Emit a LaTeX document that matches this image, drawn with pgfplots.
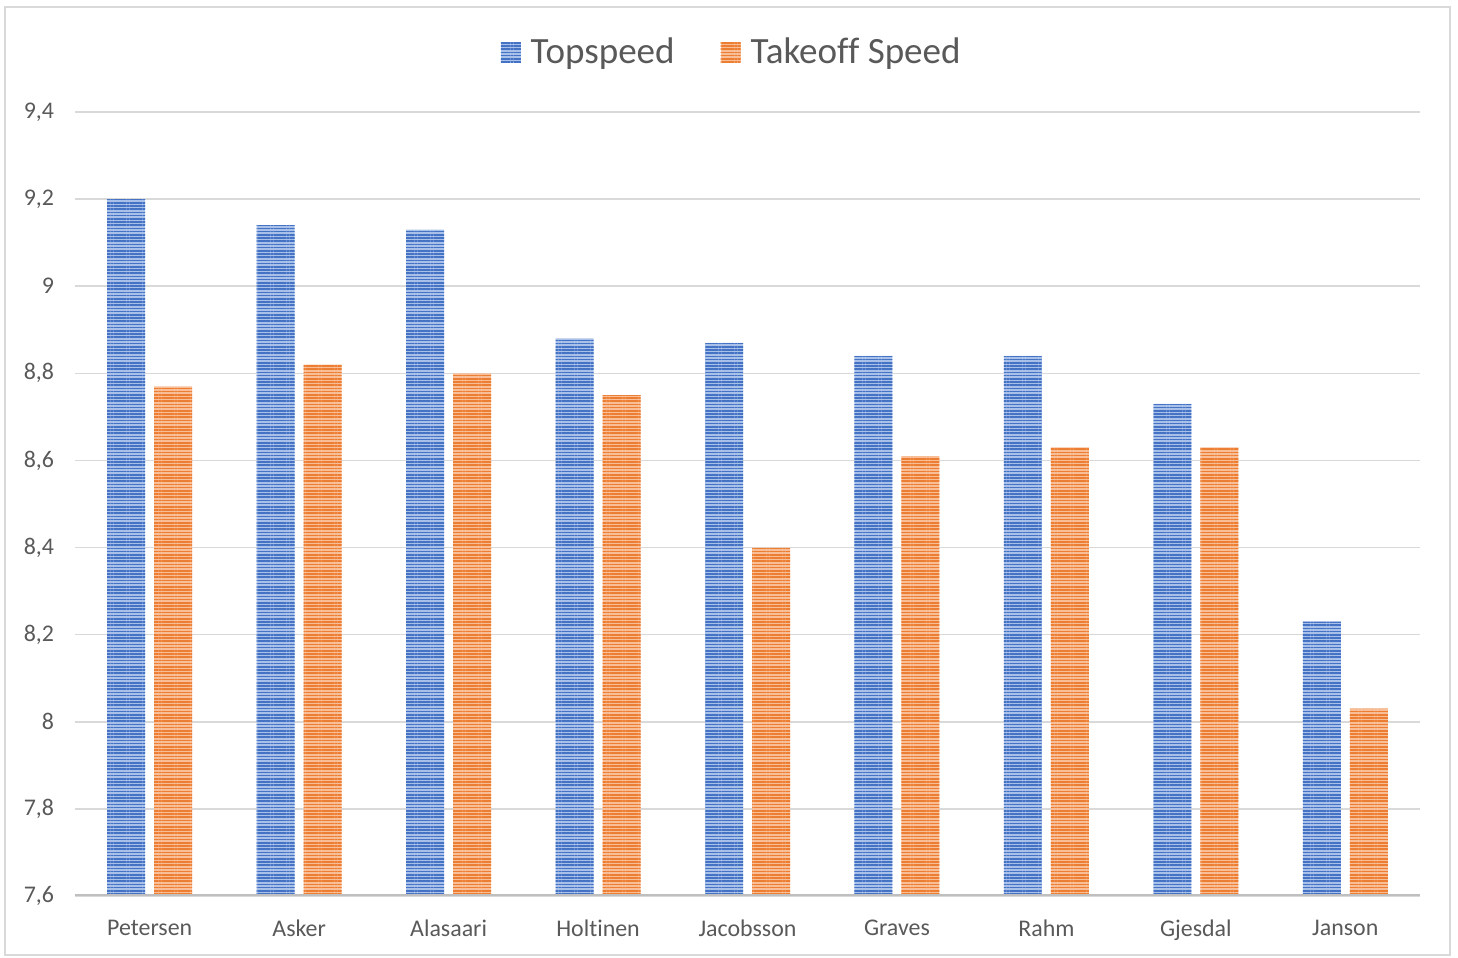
\documentclass[border=0pt]{standalone}
\usepackage{fontspec}
\setmainfont{Carlito}[Ligatures=NoCommon]
\usepackage{pgfplots}
\pgfplotsset{compat=1.18}
\usetikzlibrary{patterns.meta}
\definecolor{topblue}{HTML}{4472C4}
\definecolor{topblueL}{HTML}{A9C0E8}
\definecolor{tkorange}{HTML}{ED7D31}
\definecolor{tkorangeL}{HTML}{F7BE98}
\definecolor{txtgray}{HTML}{595959}
\definecolor{gridgray}{HTML}{D9D9D9}
\definecolor{basegray}{HTML}{BFBFBF}

\begin{document}
\begin{tikzpicture}
% page = 1458 x 958 px, 1px = 0.5bp
\path[use as bounding box] (0bp,0bp) rectangle (729bp,479bp);
\draw[color=gridgray, line width=0.8bp] (2.5bp,1.5bp) rectangle (725bp,475.5bp);
\begin{axis}[
  at={(37.5bp,31bp)}, anchor=south west,
  scale only axis, width=672.5bp, height=392bp,
  ybar=4.5bp, bar width=19bp,
  xmin=-0.5, xmax=8.5, ymin=7.6, ymax=9.4,
  xtick={0,...,8},
  xticklabels={Petersen,Asker,Alasaari,Holtinen,Jacobsson,Graves,Rahm,Gjesdal,Janson},
  ytick={7.6,7.8,8,8.2,8.4,8.6,8.8,9,9.2,9.4},
  /pgf/number format/use comma,
  /pgf/number format/assume math mode=true,
  major tick length=0pt,
  axis line style={draw=none},
  ymajorgrids, grid style={color=gridgray, line width=0.8bp},
  ticklabel style={font=\fontsize{12}{14}\selectfont, text=txtgray},
  xticklabel style={yshift=-8.5bp},
  yticklabel style={xshift=-7bp},
  legend columns=2,
  legend style={at={(0.489,1.0765)}, anchor=center, draw=none, fill=none,
    font=\fontsize{18.6}{22}\selectfont, text=txtgray,
    /tikz/every odd column/.append style={column sep=3bp},
    /tikz/every even column/.append style={column sep=21bp}},
  legend image code/.code={\path[#1] (0bp,-5bp) rectangle (10bp,5bp);},
]
\addplot[fill=topblueL, draw=none,
  postaction={pattern={Lines[angle=0,distance=1.6bp,line width=0.75bp]}, pattern color=topblue}]
  coordinates {(0,9.20) (1,9.14) (2,9.13) (3,8.88) (4,8.87) (5,8.84) (6,8.84) (7,8.73) (8,8.23)};
\addlegendentry{Topspeed}
\addplot[fill=tkorangeL, draw=none,
  postaction={pattern={Lines[angle=0,distance=1.6bp,line width=0.75bp]}, pattern color=tkorange}]
  coordinates {(0,8.77) (1,8.82) (2,8.80) (3,8.75) (4,8.40) (5,8.61) (6,8.63) (7,8.63) (8,8.03)};
\addlegendentry{Takeoff Speed}
\draw[color=basegray, line width=1.75bp] (rel axis cs:0,0) -- (rel axis cs:1,0);
\end{axis}
\end{tikzpicture}
\end{document}
